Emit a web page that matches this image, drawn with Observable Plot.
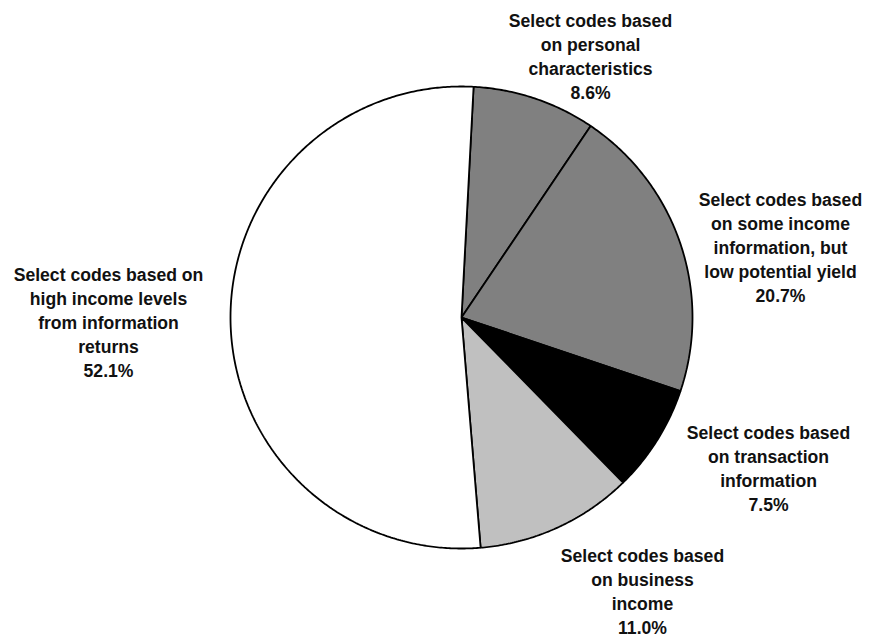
<!DOCTYPE html>
<html>
<head>
<meta charset="utf-8">
<script src="https://cdn.jsdelivr.net/npm/d3@7"></script>
<script src="https://cdn.jsdelivr.net/npm/@observablehq/plot@0.6"></script>
<style>
  html, body { margin: 0; padding: 0; background: #fff; }
  #chart svg { display: block; }
</style>
</head>
<body>
<div id="chart"></div>
<script>
// ---- data ----
const categories = [
  "Select codes based\non personal\ncharacteristics",
  "Select codes based\non some income\ninformation, but\nlow potential yield",
  "Select codes based\non transaction\ninformation",
  "Select codes based\non business\nincome",
  "Select codes based on\nhigh income levels\nfrom information\nreturns"
];
const shares = [8.6, 20.7, 7.5, 11.0, 52.1];

// ---- styles / layout (not data) ----
const sliceColors = ["#808080", "#808080", "#000000", "#c0c0c0", "#ffffff"];
const labelX = [590, 780, 768, 642, 108];
const labelY = [54.5, 246, 467, 590, 321];
const W = 869, H = 637;
const cx = 461, cy = 317, R = 231;
const startDeg = 3;

// slice angles via d3.pie (clockwise from top, offset by start angle)
const start = startDeg * Math.PI / 180;
const arcs = d3.pie().sort(null).startAngle(start).endAngle(start + 2 * Math.PI)(shares);

const pts = [];
arcs.forEach((a, i) => {
  const key = categories[i];
  pts.push({key, x: cx, y: cy});
  const n = Math.max(2, Math.ceil((a.endAngle - a.startAngle) / (Math.PI / 360)));
  for (let k = 0; k <= n; k++) {
    const t = a.startAngle + (a.endAngle - a.startAngle) * k / n;
    pts.push({key, x: cx + R * Math.sin(t), y: cy - R * Math.cos(t)});
  }
  pts.push({key, x: cx, y: cy});
});

const labels = categories.map((c, i) => ({
  text: c + "\n" + d3.format(".1f")(shares[i]) + "%",
  x: labelX[i],
  y: labelY[i]
}));

const chart = Plot.plot({
  width: W,
  height: H,
  margin: 0,
  style: {background: "#fff", overflow: "visible"},
  x: {domain: [0, W], range: [0, W], axis: null},
  y: {domain: [0, H], range: [0, H], axis: null},
  color: {domain: categories, range: sliceColors},
  marks: [
    Plot.line(pts, {
      x: "x", y: "y", z: "key", fill: "key",
      stroke: "#000", strokeWidth: 1.8, strokeLinejoin: "miter"
    }),
    Plot.text(labels, {
      x: "x", y: "y", text: "text",
      textAnchor: "middle", lineAnchor: "middle", lineHeight: 1.36,
      fontSize: 17.6, fontWeight: "bold",
      fontFamily: "'Liberation Sans', Arial, sans-serif",
      fill: "#111"
    })
  ]
});
document.getElementById("chart").appendChild(chart);
</script>
</body>
</html>
